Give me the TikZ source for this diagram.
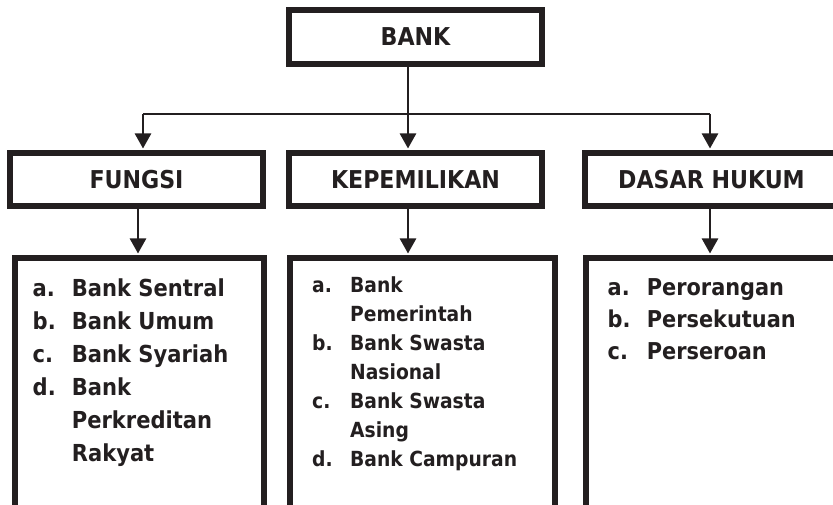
\documentclass[tikz,border=0pt]{standalone}
\usepackage{fontspec}
\setmainfont{DejaVu Sans Condensed}
\usetikzlibrary{arrows.meta}
\definecolor{ink}{RGB}{35,31,32}
\tikzset{
  hbox/.style={draw=ink, line width=6pt, minimum width=253pt, minimum height=53pt, inner sep=0pt,
    font=\fontsize{24.6}{29}\selectfont\bfseries, text=ink},
  listbox/.style={draw=ink, line width=6pt, minimum height=249.5pt, inner sep=0pt},
  listtext/.style={inner sep=0pt, anchor=north west, text=ink},
  conn/.style={draw=ink, line width=2.5pt},
  arr/.style={conn, -{Triangle[length=15pt,width=16pt]}, shorten >=1.5pt}
}
\begin{document}
\begin{tikzpicture}[x=1pt,y=-1pt]
\useasboundingbox (0,0) rectangle (833,505);
% header boxes
\node[hbox, minimum height=54pt] (bank) at (415.5,37) {BANK};
\node[hbox] (fungsi) at (136.5,179.5) {FUNGSI};
\node[hbox] (kep) at (415.5,179.5) {KEPEMILIKAN};
\node[hbox] (dasar) at (711.5,179.5) {DASAR HUKUM};
% list boxes
\node[listbox, minimum width=249pt] (listL) at (139.5,382.75) {};
\node[listbox, minimum width=265pt] (listM) at (422.5,382.75) {};
\node[listbox, minimum width=264pt] (listR) at (718,382.75) {};
% list texts
\node[listtext, font=\fontsize{23.4}{33}\selectfont\bfseries] (textL) at (32.5,272.9)
  {\begin{tabular}{@{}p{39.2pt}@{}l@{}}
   a. & Bank Sentral\\
   b. & Bank Umum\\
   c. & Bank Syariah\\
   d. & Bank\\
      & Perkreditan\\
      & Rakyat
  \end{tabular}};
\node[listtext, font=\fontsize{20.8}{29}\selectfont\bfseries] (textM) at (312,272.3)
  {\begin{tabular}{@{}p{38pt}@{}l@{}}
   a. & Bank\\
      & Pemerintah\\
   b. & Bank Swasta\\
      & Nasional\\
   c. & Bank Swasta\\
      & Asing\\
   d. & Bank Campuran
  \end{tabular}};
\node[listtext, font=\fontsize{23.2}{32}\selectfont\bfseries] (textR) at (607.5,272.6)
  {\begin{tabular}{@{}p{39.2pt}@{}l@{}}
   a. & Perorangan\\
   b. & Persekutuan\\
   c. & Perseroan
  \end{tabular}};
% connectors
\coordinate (jL) at (143,114);
\coordinate (jM) at (408,114);
\coordinate (jR) at (710,114);
\coordinate (xL) at (138,0);
\coordinate (xM) at (408,0);
\coordinate (xR) at (710,0);
\draw[conn] (jL) -- (jR);
\draw[arr] (bank.south -| jM) -- (kep.north -| jM);
\draw[arr] (jL) -- (fungsi.north -| jL);
\draw[arr] (jR) -- (dasar.north -| jR);
\draw[arr] (fungsi.south -| xL) -- (listL.north -| xL);
\draw[arr] (kep.south -| xM) -- (listM.north -| xM);
\draw[arr] (dasar.south -| xR) -- (listR.north -| xR);
\end{tikzpicture}
\end{document}
